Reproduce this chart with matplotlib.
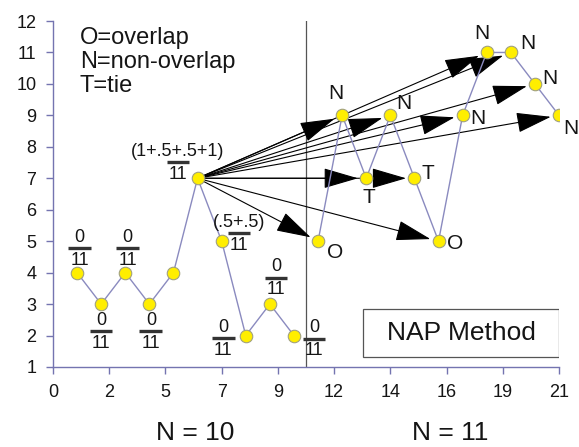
import matplotlib
matplotlib.use("Agg")
import matplotlib.pyplot as plt
from matplotlib.patches import Rectangle
import numpy as np

plt.rcParams['font.family'] = ['Liberation Sans', 'DejaVu Sans']

# Data
phase_a_x = [1, 2, 3, 4, 5, 6, 7, 8, 9, 10]
phase_a_y = [4, 3, 4, 3, 4, 7, 5, 2, 3, 2]
phase_b_x = [11, 12, 13, 14, 15, 16, 17, 18, 19, 20, 21]
phase_b_y = [5, 9, 7, 9, 7, 5, 9, 11, 11, 10, 9]
phase_b_labels = ['O', 'N', 'T', 'N', 'T', 'O', 'N', 'N', 'N', 'N', 'N']
x_tick_labels = ['0', '2', '5', '7', '9', '12', '14', '16', '19', '21']
y_ticks = list(range(1, 13))
# fractions shown next to phase A points: (index, numerator)
fractions = [(0, '0'), (1, '0'), (2, '0'), (3, '0'), (5, '(1+.5+.5+1)'),
             (6, '(.5+.5)'), (7, '0'), (8, '0'), (9, '0')]
denominator = '11'
phase_change = 10.5
source_index = 5  # point compared to all phase B points

spine_c = '#7474b0'
line_c = '#8a8abf'
txt_c = '#151515'

fig = plt.figure(figsize=(5.79, 4.47), dpi=100)
ax = fig.add_axes([0.0915, 0.179, 0.874, 0.774])
ax.set_xlim(0, 21)
ax.set_ylim(1, 12)

# arrows from the source point to each phase B point
sx, sy = phase_a_x[source_index], phase_a_y[source_index]
for bx, by in zip(phase_b_x, phase_b_y):
    ax.annotate('', xy=(bx, by), xytext=(sx, sy),
                arrowprops=dict(arrowstyle='-|>,head_length=1.3,head_width=0.38',
                                color='black', lw=0.8, shrinkA=0, shrinkB=6,
                                mutation_scale=17),
                zorder=2)

ax.plot(phase_a_x, phase_a_y, color=line_c, lw=1.0, zorder=3)
ax.plot(phase_b_x, phase_b_y, color=line_c, lw=1.0, zorder=3)
for xs, ys in [(phase_a_x, phase_a_y), (phase_b_x, phase_b_y)]:
    ax.plot(xs, ys, ls='none', marker='o', ms=9, mfc='#ffee00', mec='#a0a080',
            mew=0.8, zorder=4)

ax.axvline(phase_change, color='#555555', lw=0.9, zorder=1)

# spines / ticks
for s in ['top', 'right']:
    ax.spines[s].set_visible(False)
for s in ['left', 'bottom']:
    ax.spines[s].set_color(spine_c)
    ax.spines[s].set_linewidth(1.0)
ax.set_xticks(np.linspace(0, 21, len(x_tick_labels)))
ax.set_xticklabels(x_tick_labels)
ax.set_yticks(y_ticks)
ax.tick_params(axis='both', colors=spine_c, labelcolor=txt_c,
               labelsize=13, length=5, width=1.0, direction='out')
ax.tick_params(axis='x', pad=7)
ax.tick_params(axis='y', pad=7)

# fraction labels: (dx, dy) of the fraction bar relative to the point
offsets = {0: (0.1, 0.78), 1: (0.0, -0.86), 2: (0.1, 0.78), 3: (0.06, -0.86),
           5: (-0.81, 0.51), 6: (0.72, 0.25), 7: (-0.93, -0.08), 8: (0.25, 0.83),
           9: (0.83, -0.11)}
for idx, num in fractions:
    dx, dy = offsets[idx]
    x, y = phase_a_x[idx] + dx, phase_a_y[idx] + dy
    ny = y + (0.33 if num.startswith('(') else 0.35)
    ax.text(x, ny, num, ha='center', va='center', fontsize=13, color=txt_c)
    bw = 0.47
    ax.plot([x - bw, x + bw], [y, y], color='#333333', lw=2.4, solid_capstyle='butt')
    ax.text(x, y - 0.38, denominator, ha='center', va='center', fontsize=13, color=txt_c)

# phase B letters
lab_off = {0: (0.70, -0.35), 1: (-0.26, 0.70), 2: (0.11, -0.60), 3: (0.56, 0.38),
           4: (0.56, 0.16), 5: (0.68, -0.06), 6: (0.63, -0.10), 7: (-0.20, 0.60),
           8: (0.71, 0.29), 9: (0.62, 0.17), 10: (0.50, -0.41)}
for i, (bx, by) in enumerate(zip(phase_b_x, phase_b_y)):
    dx, dy = lab_off[i]
    ax.text(bx + dx, by + dy, phase_b_labels[i], ha='center', va='center',
            fontsize=15, color=txt_c, clip_on=False)

ax.text(1.12, 11.8, 'O=overlap\nN=non-overlap\nT=tie', ha='left', va='top',
        fontsize=17, color=txt_c, linespacing=1.12)

ax.add_patch(Rectangle((12.86, 1.32), 21 - 12.86, 1.52, fc='white', ec='#555555',
                       lw=0.9, zorder=5))
ax.text(16.93, 2.08, 'NAP Method', ha='center', va='center', fontsize=19,
        color=txt_c, zorder=6)

fig.text(195 / 579, 1 - 433 / 447, 'N = 10', ha='center', va='center', fontsize=19,
         color=txt_c)
fig.text(450 / 579, 1 - 433 / 447, 'N = 11', ha='center', va='center', fontsize=19,
         color=txt_c)

fig.savefig('out.png', dpi=100)
